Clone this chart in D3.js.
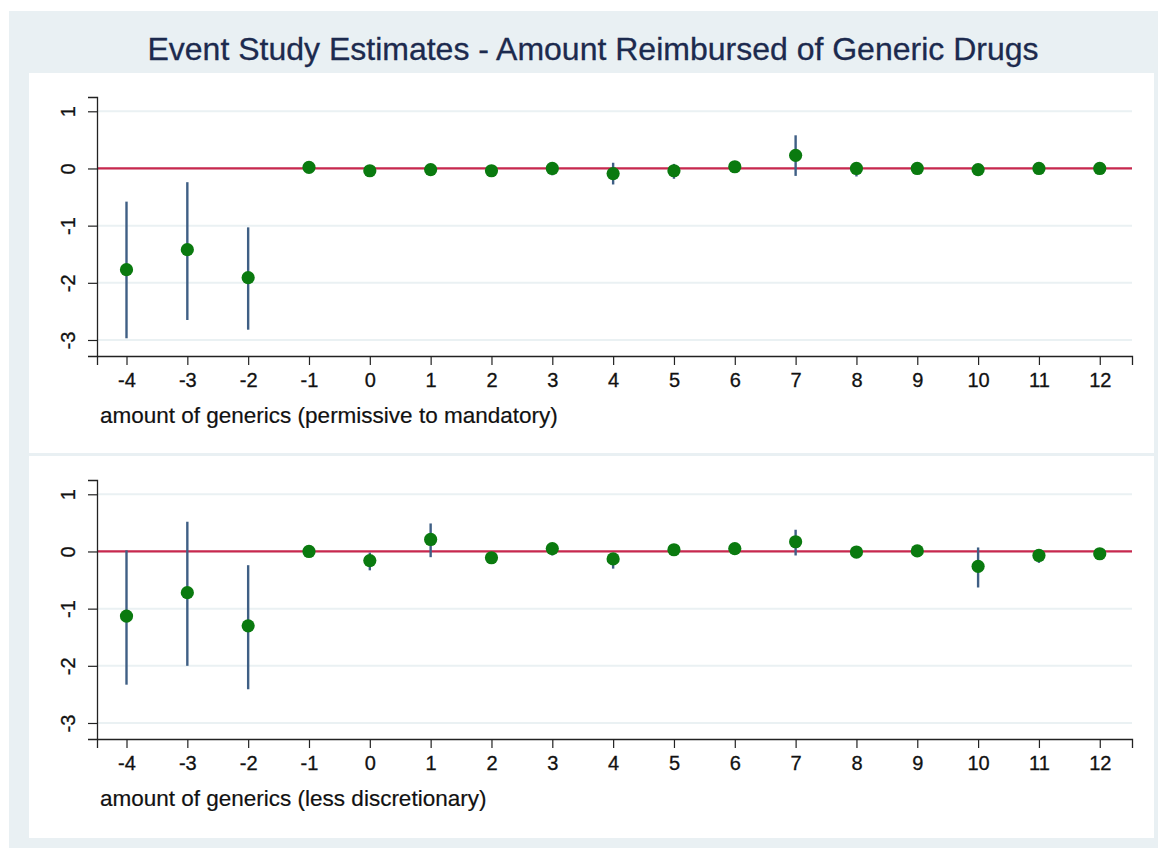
<!DOCTYPE html>
<html>
<head>
<meta charset="utf-8">
<script src="https://cdn.jsdelivr.net/npm/d3@7"></script>
<style>
  html, body { margin: 0; padding: 0; background: #ffffff; }
  svg { display: block; }
  text { font-family: "Liberation Sans", Arial, Helvetica, sans-serif; }
</style>
</head>
<body>
<svg id="chart" width="1158" height="850"></svg>
<script>
// Event-time periods (x axis)
const periods = [-4, -3, -2, -1, 0, 1, 2, 3, 4, 5, 6, 7, 8, 9, 10, 11, 12];

// Panel 1: amount of generics (permissive to mandatory)
const est1  = [-1.77, -1.42, -1.91, 0.02, -0.04, -0.02, -0.04, 0.00, -0.09, -0.04, 0.03, 0.23, 0.00, 0.00, -0.02, 0.00, 0.00];
const lo1   = [-2.97, -2.65, -2.82, 0.02, -0.10, -0.12, -0.10, -0.12, -0.28, -0.18, -0.03, -0.13, -0.14, -0.06, -0.08, -0.06, -0.06];
const hi1   = [-0.58, -0.24, -1.03, 0.02, 0.03, 0.06, 0.02, 0.08, 0.10, 0.08, 0.09, 0.58, 0.08, 0.06, 0.04, 0.06, 0.06];

// Panel 2: amount of generics (less discretionary)
const est2  = [-1.13, -0.72, -1.30, 0.00, -0.16, 0.21, -0.11, 0.05, -0.13, 0.03, 0.05, 0.17, -0.01, 0.01, -0.26, -0.07, -0.04];
const lo2   = [-2.33, -2.00, -2.41, 0.00, -0.33, -0.10, -0.18, -0.07, -0.30, -0.03, -0.01, -0.07, -0.07, -0.05, -0.63, -0.20, -0.10];
const hi2   = [0.02, 0.52, -0.24, 0.00, -0.02, 0.49, -0.05, 0.12, -0.03, 0.09, 0.11, 0.38, 0.05, 0.07, 0.07, 0.04, 0.02];

const yTicks = [1, 0, -1, -2, -3];
const titleText = "Event Study Estimates - Amount Reimbursed of Generic Drugs";
const xTitles = ["amount of generics (permissive to mandatory)", "amount of generics (less discretionary)"];

// plain hyphen for negative tick labels
const fmt = d => String(d);

const svg = d3.select("#chart");

// Outer graph region
svg.append("rect")
  .attr("x", 9).attr("y", 11).attr("width", 1149).attr("height", 837)
  .attr("fill", "#e9f0f3");

svg.append("text")
  .attr("x", 593).attr("y", 60)
  .attr("text-anchor", "middle")
  .attr("font-size", 32)
  .attr("fill", "#1c2a4e")
  .attr("stroke", "#1c2a4e").attr("stroke-width", 0.3)
  .text(titleText);

const panels = [
  { top: 73, bottom: 453, est: est1, lo: lo1, hi: hi1, xtitle: xTitles[0] },
  { top: 456, bottom: 838, est: est2, lo: lo2, hi: hi2, xtitle: xTitles[1] }
];

panels.forEach((p, i) => {
  const g = svg.append("g");
  g.append("rect")
    .attr("x", 29).attr("y", p.top)
    .attr("width", 1125).attr("height", p.bottom - p.top)
    .attr("fill", "#ffffff");

  // plot area relative to panel
  const plotTop = p.top + 24;
  const plotBottom = p.top + 283;
  const left = 97, right = 1132;

  const x = d3.scaleLinear().domain([-4.485, 12.53]).range([left, right]);
  const y = d3.scaleLinear().domain([-3.28, 1.25]).range([plotBottom, plotTop]);

  // horizontal grid lines
  g.selectAll(".grid").data(yTicks).enter().append("line")
    .attr("x1", left).attr("x2", right)
    .attr("y1", d => y(d)).attr("y2", d => y(d))
    .attr("stroke", "#eaf1f3").attr("stroke-width", 2);

  // reference line at zero
  g.append("line")
    .attr("x1", left).attr("x2", right)
    .attr("y1", y(0)).attr("y2", y(0))
    .attr("stroke", "#c8284e").attr("stroke-width", 2.2);

  // y axis
  const yAxis = g.append("g")
    .attr("transform", `translate(${left},0)`)
    .call(d3.axisLeft(y).tickValues(yTicks).tickSize(9).tickPadding(6).tickFormat(fmt));
  yAxis.attr("font-size", null).attr("font-family", null);
  yAxis.select(".domain").attr("stroke", "#222").attr("stroke-width", 1.3);
  yAxis.selectAll(".tick line").attr("stroke", "#222").attr("stroke-width", 1.2);
  yAxis.selectAll(".tick text")
    .style("font-size", "20px").attr("fill", "#111")
    .attr("stroke", "#111").attr("stroke-width", 0.3)
    .attr("x", null)
    .attr("text-anchor", "middle")
    .attr("transform", "translate(-29,0) rotate(-90)")
    .attr("y", 0).attr("dy", "0.36em");

  // x axis
  const xAxis = g.append("g")
    .attr("transform", `translate(0,${plotBottom})`)
    .call(d3.axisBottom(x).tickValues(periods).tickSize(9).tickPadding(8).tickFormat(fmt));
  xAxis.attr("font-size", null).attr("font-family", null);
  xAxis.select(".domain").attr("stroke", "#222").attr("stroke-width", 1.3);
  xAxis.selectAll(".tick line").attr("stroke", "#222").attr("stroke-width", 1.2);
  xAxis.selectAll(".tick text")
    .style("font-size", "20px").attr("fill", "#111")
    .attr("stroke", "#111").attr("stroke-width", 0.3);

  // x axis title
  g.append("text")
    .attr("x", 100).attr("y", plotBottom + 67)
    .style("font-size", "22.5px").attr("fill", "#111")
    .attr("stroke", "#111").attr("stroke-width", 0.2)
    .text(p.xtitle);

  const rows = periods.map((t, k) => ({ t, est: p.est[k], lo: p.lo[k], hi: p.hi[k] }));

  // confidence intervals
  g.selectAll(".ci").data(rows.filter(d => d.hi !== d.lo)).enter().append("line")
    .attr("x1", d => x(d.t)).attr("x2", d => x(d.t))
    .attr("y1", d => y(d.hi)).attr("y2", d => y(d.lo))
    .attr("stroke", "#3f5f85").attr("stroke-width", 2.4);

  // point estimates
  g.selectAll(".pt").data(rows).enter().append("circle")
    .attr("cx", d => x(d.t)).attr("cy", d => y(d.est))
    .attr("r", 6.6)
    .attr("fill", "#0a7a0f");
});
</script>
</body>
</html>
